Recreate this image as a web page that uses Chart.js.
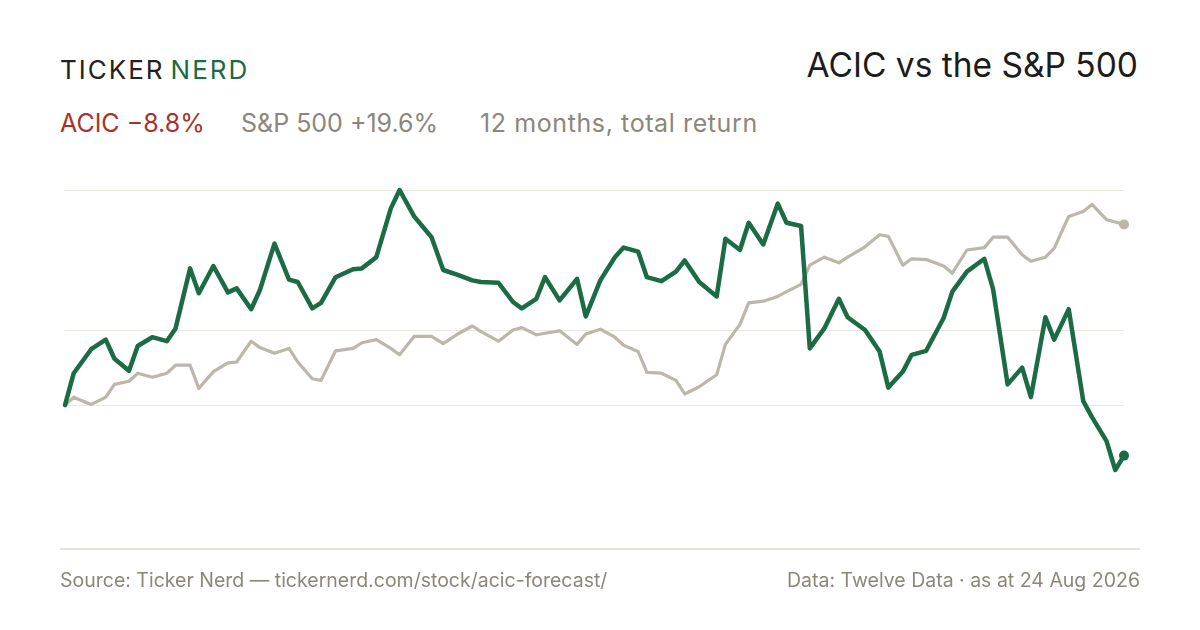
<!DOCTYPE html>
<html>
<head>
<meta charset="utf-8">
<script src="https://cdn.jsdelivr.net/npm/chart.js@4.4.1/dist/chart.umd.min.js"></script>
<style>
  html, body { margin: 0; padding: 0; background: #fff; }
  body { width: 1200px; height: 630px; position: relative; overflow: hidden; font-family: Inter, "Noto Sans", sans-serif; }
  #chart { position: absolute; left: 0; top: 0; }
  .t { position: absolute; white-space: nowrap; line-height: 1; }
  #brand { left: 60px; top: 57px; font-size: 26px; letter-spacing: 2px; color: #222; }
  #brand span { color: #1b6b44; margin-left: 6px; }
  #title { right: 62px; top: 49px; font-size: 33.5px; color: #1c1c1c; }
  .sub { top: 111px; font-size: 25px; color: #8c8778; }
  #subA { left: 60px; color: #a8322b; }
  #subB { left: 241px; }
  #subC { left: 480px; letter-spacing: 0.6px; }
  #rule { position: absolute; left: 60px; top: 548px; width: 1080px; height: 2px; background: #e6e2da; }
  .foot { top: 571px; font-size: 19.5px; color: #8c8778; }
  #src { left: 60px; }
  #data { right: 60px; }
</style>
</head>
<body>
<div class="t" id="brand">TICKER<span>NERD</span></div>
<div class="t" id="title">ACIC vs the S&amp;P 500</div>
<div class="t sub" id="subA">ACIC −8.8%</div>
<div class="t sub" id="subB">S&amp;P 500 +19.6%</div>
<div class="t sub" id="subC">12 months, total return</div>
<canvas id="chart" width="1200" height="630"></canvas>
<div id="rule"></div>
<div class="t foot" id="src">Source: Ticker Nerd — tickernerd.com/stock/acic-forecast/</div>
<div class="t foot" id="data">Data: Twelve Data · as at 24 Aug 2026</div>
<script>
// sample dates (every 3rd trading day)
const dates = [
  '2025-08-25','2025-08-28','2025-09-03','2025-09-08','2025-09-11','2025-09-16','2025-09-19','2025-09-24','2025-09-29','2025-10-02',
  '2025-10-07','2025-10-10','2025-10-15','2025-10-20','2025-10-23','2025-10-28','2025-10-31','2025-11-05','2025-11-10','2025-11-13',
  '2025-11-18','2025-11-21','2025-11-26','2025-12-02','2025-12-05','2025-12-10','2025-12-15','2025-12-18','2025-12-23','2025-12-29',
  '2026-01-02','2026-01-07','2026-01-12','2026-01-15','2026-01-21','2026-01-26','2026-01-29','2026-02-03','2026-02-06','2026-02-11',
  '2026-02-17','2026-02-20','2026-02-25','2026-03-02','2026-03-05','2026-03-10','2026-03-13','2026-03-18','2026-03-23','2026-03-26',
  '2026-03-31','2026-04-06','2026-04-09','2026-04-14','2026-04-17','2026-04-22','2026-04-27','2026-04-30','2026-05-05','2026-05-08',
  '2026-05-13','2026-05-18','2026-05-21','2026-05-27','2026-06-01','2026-06-04','2026-06-09','2026-06-12','2026-06-17','2026-06-23',
  '2026-06-26','2026-07-01','2026-07-07','2026-07-10','2026-07-15','2026-07-20','2026-07-23','2026-07-28','2026-07-31','2026-08-05',
  '2026-08-10','2026-08-13','2026-08-18','2026-08-21','2026-08-24'
];

// cumulative return, %
const acic = [
  0, 4.0, 7.0, 8.2, 5.8, 4.3, 7.4, 8.5, 8.0, 9.6,
  17.1, 14.0, 17.4, 14.1, 14.6, 12.0, 14.4, 20.2, 15.7, 15.4,
  12.1, 12.8, 16.0, 17.0, 17.1, 18.5, 24.6, 26.9, 23.6, 21.0,
  16.9, 16.3, 15.6, 15.4, 15.3, 12.9, 12.1, 13.3, 16.0, 13.1,
  15.8, 11.1, 15.6, 18.5, 19.7, 19.2, 16.0, 15.5, 16.7, 18.1,
  15.4, 13.6, 20.8, 19.4, 22.8, 20.1, 25.2, 22.8, 22.4, 7.1,
  9.6, 13.3, 11.0, 9.4, 6.7, 2.2, 4.2, 6.3, 6.8, 10.9,
  14.2, 16.7, 18.3, 14.5, 2.6, 4.7, 1.0, 11.0, 8.2, 12.0,
  0.5, -1.5, -4.5, -8.1, -6.3
];
const spx = [
  0, 1.0, 0.1, 1.0, 2.6, 3.0, 4.0, 3.5, 4.0, 5.0,
  5.0, 2.1, 4.2, 5.3, 5.4, 8.0, 7.2, 6.5, 7.1, 5.4,
  3.3, 3.1, 6.8, 7.1, 7.8, 8.2, 7.1, 6.3, 8.6, 8.6,
  7.7, 8.9, 9.9, 9.2, 8.0, 9.4, 9.7, 8.8, 9.0, 9.3,
  7.6, 8.9, 9.5, 8.5, 7.5, 6.7, 4.1, 4.0, 3.1, 1.4,
  2.3, 3.8, 7.6, 10.1, 12.8, 13.0, 13.6, 14.2, 15.1, 17.5,
  18.5, 17.8, 18.5, 19.8, 21.3, 21.1, 17.5, 18.3, 18.2, 17.4,
  16.5, 19.4, 19.7, 21.0, 21.0, 18.8, 18.0, 18.5, 19.6, 23.6,
  24.2, 25.1, 23.2, 22.9, 22.6
];

const day0 = Date.parse(dates[0]);
const days = dates.map(d => (Date.parse(d) - day0) / 86400000);
const toPoints = vals => vals.map((v, i) => ({ x: days[i], y: v }));

const yMax = Math.max(...acic, ...spx);
const yMin = Math.min(...acic, ...spx);
const last = dates.length - 1;
const endDot = ctx => ctx.dataIndex === last ? 5 : 0;

new Chart(document.getElementById('chart').getContext('2d'), {
    type: 'line',
    data: {
        datasets: [{
            label: 'ACIC',
            data: toPoints(acic),
            borderColor: '#1b6b44',
            backgroundColor: '#1b6b44',
            borderWidth: 4.5,
            pointRadius: endDot,
            pointBorderWidth: 0,
            clip: false
        }, {
            label: 'S&P 500',
            data: toPoints(spx),
            borderColor: '#bdb6aa',
            backgroundColor: '#bdb6aa',
            borderWidth: 3.2,
            pointRadius: endDot,
            pointBorderWidth: 0,
            clip: false
        }]
    },
    options: {
        responsive: false,
        animation: false,
        events: [],
        layout: { autoPadding: false, padding: { left: 65, right: 76, top: 190, bottom: 160 } },
        elements: { line: { tension: 0, borderJoinStyle: 'round', borderCapStyle: 'round' } },
        plugins: { legend: { display: false }, tooltip: { enabled: false } },
        scales: {
            x: { type: 'linear', min: 0, max: days[last], display: false },
            y: {
                min: yMin,
                max: yMax,
                afterBuildTicks: s => { s.ticks = [{ value: yMax }, { value: (yMax + yMin) / 2 }, { value: 0 }]; },
                ticks: { display: false },
                border: { display: false },
                grid: { color: '#ece8e2', lineWidth: 1, drawTicks: false }
            }
        }
    }
});
</script>
</body>
</html>
